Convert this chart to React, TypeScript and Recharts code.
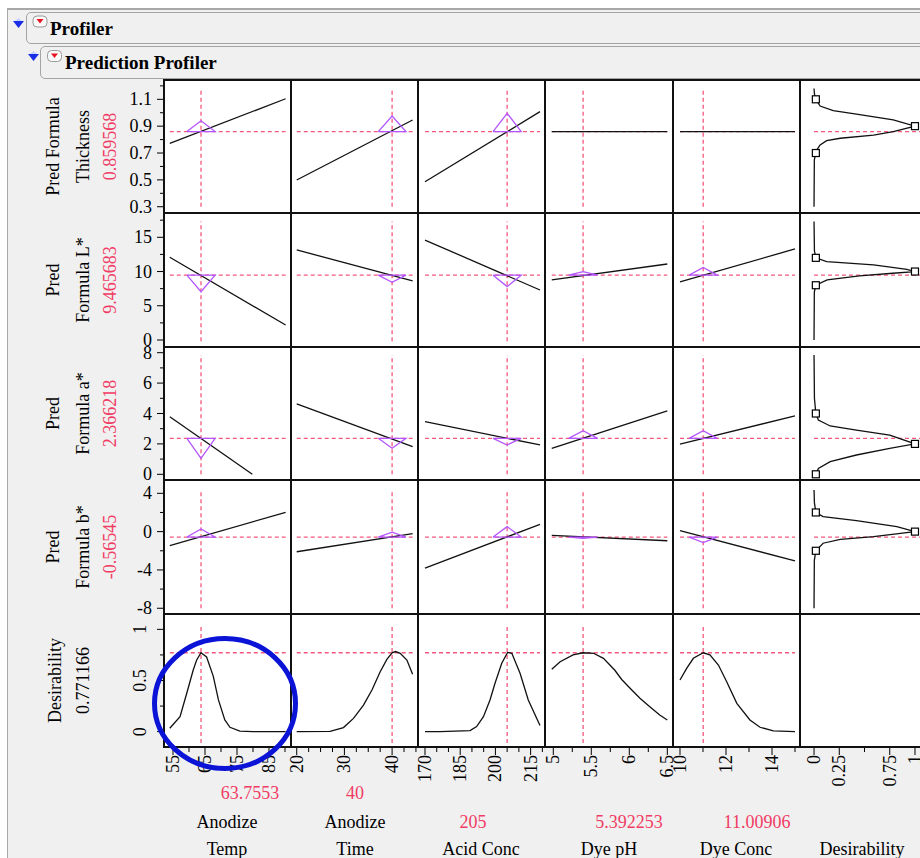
import { ComposedChart, Line, Scatter, XAxis, YAxis, ReferenceLine } from "recharts";

const FONT = "'Liberation Serif', 'Times New Roman', serif";
const RED = "#f03c64";
const DASH = "#f5587c";
const VIOLET = "#b455ff";

// factors (columns)
const factorNames = [["Anodize", "Temp"], ["Anodize", "Time"], ["Acid Conc"], ["Dye pH"], ["Dye Conc"], ["Desirability"]];
const factorCurrent = [63.7553, 40, 205, 5.392253, 11.00906];
const factorLabels = ["63.7553", "40", "205", "5.392253", "11.00906"];
const factorRange = [[54, 90.2], [20, 44.3], [170, 219], [4.98, 6.5], [10, 15]];
const triHalfWidth = [4.4, 2.9, 6.0, 0.19, 0.61];
const xDomains = [[52.19, 91.88], [18.8, 45.43], [167.02, 221.13], [4.891, 6.575], [9.696, 15.217], [-0.139, 1.119]];
const xMajor = [[55, 65, 75, 85], [20, 30, 40], [170, 185, 200, 215], [5, 5.5, 6, 6.5], [10, 12, 14], [0, 0.25, 0.75, 1]];
const xMinor = [[60, 70, 80, 90], [22.5, 25, 27.5, 32.5, 35, 37.5, 42.5, 45], [175, 180, 190, 195, 205, 210, 220], [5.25, 5.75, 6.25], [11, 13, 15], [0.5]];

// responses (rows)
const responseNames = [["Pred Formula", "Thickness"], ["Pred", "Formula L*"], ["Pred", "Formula a*"], ["Pred", "Formula b*"], ["Desirability"]];
const responseCurrent = [0.859568, 9.465683, 2.366218, -0.56545, 0.771166];
const responseLabels = ["0.859568", "9.465683", "2.366218", "-0.56545", "0.771166"];
const responseSpan = [[0.3, 1.18], [-0.2, 17.3], [0, 7.85], [-8, 4.35], [-0.11, 1.05]];
const yDomains = [[0.2534, 1.2437], [-1.023, 18.55], [-0.375, 8.375], [-8.6, 5.39], [-0.15, 1.15]];
const yMajor = [[0.3, 0.5, 0.7, 0.9, 1.1], [0, 5, 10, 15], [0, 2, 4, 6, 8], [-8, -4, 0, 4], [0, 0.5, 1]];
const yMinor = [[0.4, 0.6, 0.8, 1.0, 1.2], [2.5, 7.5, 12.5, 17.5], [1, 3, 5, 7], [-6, -2, 2], [0.25, 0.75]];

// profile traces per response, one per factor: [x, y]
const thicknessProfiles = [
  [[54, 0.772], [90.2, 1.104]],
  [[20, 0.499], [44.3, 0.946]],
  [[170, 0.486], [219, 1.008]],
  [[4.98, 0.8596], [6.5, 0.8596]],
  [[10, 0.8596], [15, 0.8596]],
];
const lStarProfiles = [
  [[54, 12.09], [90.2, 2.19]],
  [[20, 13.16], [44.3, 8.63]],
  [[170, 14.6], [219, 7.3]],
  [[4.98, 8.77], [6.5, 11.1]],
  [[10, 8.48], [15, 13.3]],
];
const aStarProfiles = [
  [[54, 3.79], [79.8, 0]],
  [[20, 4.63], [44.3, 1.82]],
  [[170, 3.46], [219, 1.93]],
  [[4.98, 1.71], [6.5, 4.18]],
  [[10, 1.99], [15, 3.84]],
];
const bStarProfiles = [
  [[54, -1.46], [90.2, 2.02]],
  [[20, -2.1], [44.3, -0.2]],
  [[170, -3.8], [219, 0.75]],
  [[4.98, -0.4], [6.5, -0.95]],
  [[10, 0.1], [15, -3.06]],
];
const desirabilityProfiles = [
  [[54, 0.033], [57.2, 0.146], [59.3, 0.375], [61.3, 0.6], [62.4, 0.7], [63.76, 0.771], [65.5, 0.73], [67.6, 0.54], [69.2, 0.31], [71.2, 0.114], [72.8, 0.043], [75.9, 0.005], [80, 0], [90.2, 0]],
  [[20, 0], [27, 0.003], [29.8, 0.04], [31.9, 0.13], [34, 0.26], [35.8, 0.41], [37.5, 0.586], [38.9, 0.707], [40, 0.771], [40.7, 0.783], [41.7, 0.766], [43.1, 0.7], [44.3, 0.56]],
  [[170, 0], [176.4, 0], [189.2, 0.01], [192, 0.05], [194.9, 0.146], [197.7, 0.31], [199.8, 0.47], [202.7, 0.668], [205.2, 0.775], [207, 0.766], [210.5, 0.57], [214, 0.31], [219, 0.06]],
  [[4.98, 0.61], [5.09, 0.684], [5.26, 0.75], [5.39, 0.771], [5.53, 0.766], [5.66, 0.717], [5.81, 0.6], [5.9, 0.51], [6.01, 0.424], [6.14, 0.326], [6.27, 0.244], [6.4, 0.163], [6.5, 0.114]],
  [[10, 0.505], [10.29, 0.619], [10.58, 0.717], [11.01, 0.771], [11.3, 0.75], [11.67, 0.651], [12.03, 0.488], [12.47, 0.277], [13.04, 0.114], [13.48, 0.043], [14.06, 0.007], [15, 0]],
];
const profiles = [thicknessProfiles, lStarProfiles, aStarProfiles, bStarProfiles, desirabilityProfiles];

// apex of the purple triangles (null = none drawn)
const triangleApex = [
  [0.94, 0.975, 0.996, null, null],
  [7.06, 8.43, 7.8, 9.99, 10.6],
  [1.05, 1.71, 1.93, 2.87, 2.87],
  [0.28, -0.06, 0.52, -0.69, -1.15],
];

// desirability functions: [desirability, response]
const desirThickness = [[0, 1.18], [0.004, 1.14], [0.018, 1.1], [0.06, 1.05], [0.19, 1.015], [0.42, 0.99], [0.785, 0.946], [1, 0.9], [0.785, 0.859], [0.59, 0.834], [0.26, 0.81], [0.125, 0.792], [0.06, 0.76], [0.027, 0.722], [0.018, 0.7], [0.003, 0.65], [0, 0.3]];
const desirLStar = [[0, 17.3], [0.004, 13], [0.018, 12], [0.125, 11.45], [0.59, 10.96], [0.92, 10.33], [1, 10], [0.78, 9.75], [0.45, 9.36], [0.13, 8.77], [0.018, 8], [0.003, 7], [0, 0]];
const desirAStar = [[0, 7.85], [0.004, 5], [0.018, 4], [0.043, 3.57], [0.16, 3.18], [0.42, 2.91], [0.75, 2.58], [1, 2], [0.75, 1.71], [0.42, 1.27], [0.16, 0.83], [0.043, 0.39], [0.018, 0]];
const desirBStar = [[0, 4.35], [0.004, 3], [0.018, 2], [0.09, 1.57], [0.42, 1.15], [0.82, 0.52], [1, 0], [0.59, -0.52], [0.26, -0.8], [0.09, -1.21], [0.018, -2], [0.003, -3], [0, -8]];
const desirCurves = [desirThickness, desirLStar, desirAStar, desirBStar];
const desirHandles = [
  [[0.018, 1.1], [1, 0.9], [0.018, 0.7]],
  [[0.018, 12], [1, 10], [0.018, 8]],
  [[0.018, 4], [1, 2], [0.018, 0]],
  [[0.018, 2], [1, 0], [0.018, -2]],
];

const COLS = [164, 291, 418, 545, 673, 800, 927];
const ROWS = [80, 213, 347, 480, 614, 747];
const YAX = 60;
const XAX = 50;

const pts = (a: number[][]) => a.map(([x, y]) => ({ x, y }));

const YTick = (props: any) => {
  const { x, y, payload, majors, rotated } = props;
  const v = payload.value;
  const major = majors.includes(v);
  return (
    <g>
      <line x1={x - (major ? 7 : 4)} x2={x} y1={y} y2={y} stroke="#000" />
      {major &&
        (rotated ? (
          <text x={x - 24} y={y} transform={`rotate(-90 ${x - 24} ${y})`} textAnchor="middle" dominantBaseline="central" fontFamily={FONT} fontSize={18} fill="#000">
            {String(v)}
          </text>
        ) : (
          <text x={x - 12} y={y} textAnchor="end" dominantBaseline="central" fontFamily={FONT} fontSize={18} fill="#000">
            {String(v)}
          </text>
        ))}
    </g>
  );
};

const XTick = (props: any) => {
  const { x, y, payload, majors } = props;
  const v = payload.value;
  const major = majors.includes(v);
  return (
    <g>
      <line x1={x} x2={x} y1={y} y2={y + (major ? 8 : 5)} stroke="#000" />
      {major && (
        <text x={x} y={y + 8} transform={`rotate(-90 ${x} ${y + 8})`} textAnchor="end" dominantBaseline="central" fontFamily={FONT} fontSize={18} fill="#000">
          {String(v)}
        </text>
      )}
    </g>
  );
};

const Square = (props: any) => <rect x={props.cx - 3.5} y={props.cy - 3.5} width={7} height={7} fill="#fff" stroke="#000" strokeWidth={1.2} />;

function Cell({ r, c }: { r: number; c: number }) {
  const showY = c === 0;
  const showX = r === 4;
  const w = COLS[c + 1] - COLS[c] + (showY ? YAX : 0);
  const h = ROWS[r + 1] - ROWS[r] + (showX ? XAX : 0);
  const isDesirCol = c === 5;
  const hasContent = !(isDesirCol && r === 4);
  const apex = !isDesirCol && r < 4 ? triangleApex[r][c] : null;
  const tri =
    apex !== null
      ? [
          { x: factorCurrent[c] - triHalfWidth[c], y: responseCurrent[r] },
          { x: factorCurrent[c], y: apex },
          { x: factorCurrent[c] + triHalfWidth[c], y: responseCurrent[r] },
          { x: factorCurrent[c] - triHalfWidth[c], y: responseCurrent[r] },
        ]
      : null;
  return (
    <div style={{ position: "absolute", left: COLS[c] - (showY ? YAX : 0), top: ROWS[r] }}>
      <ComposedChart width={w} height={h} margin={{ top: 0, right: 0, bottom: 0, left: 0 }}>
        <XAxis
          type="number"
          dataKey="x"
          domain={xDomains[c]}
          allowDataOverflow
          hide={!showX}
          height={XAX}
          ticks={[...xMajor[c], ...xMinor[c]]}
          interval={0}
          tickSize={0}
          tickMargin={0}
          axisLine={false}
          tickLine={false}
          tick={(p: any) => <XTick {...p} majors={xMajor[c]} />}
        />
        <YAxis
          type="number"
          dataKey="y"
          domain={yDomains[r]}
          allowDataOverflow
          hide={!showY}
          width={YAX}
          ticks={[...yMajor[r], ...yMinor[r]]}
          interval={0}
          tickSize={0}
          tickMargin={0}
          axisLine={false}
          tickLine={false}
          tick={(p: any) => <YTick {...p} majors={yMajor[r]} rotated={r === 4} />}
        />
        {hasContent && !isDesirCol && (
          <ReferenceLine
            segment={[{ x: factorCurrent[c], y: responseSpan[r][0] }, { x: factorCurrent[c], y: responseSpan[r][1] }]}
            stroke={DASH}
            strokeDasharray="4 3"
            strokeWidth={1.3}
            ifOverflow="visible"
          />
        )}
        {hasContent && (
          <ReferenceLine
            segment={
              isDesirCol
                ? [{ x: 0, y: responseCurrent[r] }, { x: 1.12, y: responseCurrent[r] }]
                : [{ x: factorRange[c][0], y: responseCurrent[r] }, { x: factorRange[c][1], y: responseCurrent[r] }]
            }
            stroke={DASH}
            strokeDasharray="4 3"
            strokeWidth={1.3}
            ifOverflow="visible"
          />
        )}
        {hasContent && !isDesirCol && (
          <Line data={pts(profiles[r][c])} dataKey="y" stroke="#111" strokeWidth={1.3} dot={false} isAnimationActive={false} />
        )}
        {tri && <Line data={tri} dataKey="y" stroke={VIOLET} strokeWidth={1.3} dot={false} isAnimationActive={false} />}
        {hasContent && isDesirCol && (
          <Line data={pts(desirCurves[r])} dataKey="y" stroke="#111" strokeWidth={1.3} dot={false} isAnimationActive={false} />
        )}
        {hasContent && isDesirCol && (
          <Scatter data={pts(desirHandles[r])} dataKey="y" shape={<Square />} isAnimationActive={false} />
        )}
      </ComposedChart>
    </div>
  );
}

const BlueTri = ({ x, y }: { x: number; y: number }) => (
  <g>
    <polygon points={`${x},${y + 3} ${x + 11},${y + 3} ${x + 5.5},${y + 10}`} fill="#1a2ee6" />
    <polygon points={`${x + 2},${y + 3} ${x + 9},${y + 3} ${x + 5.5},${y}`} fill="#c8d2ff" />
  </g>
);

const MenuIcon = ({ x, y }: { x: number; y: number }) => (
  <g>
    <rect x={x} y={y} width={14} height={11} rx={4} fill="#fafafa" stroke="#9a9a9a" />
    <polygon points={`${x + 3.5},${y + 3} ${x + 10.5},${y + 3} ${x + 7},${y + 7.5}`} fill="#e8141e" />
  </g>
);

export default function App() {
  const cells = [];
  for (let r = 0; r < 5; r++) for (let c = 0; c < 6; c++) cells.push(<Cell key={`${r}-${c}`} r={r} c={c} />);
  const rowMid = ROWS.slice(0, 5).map((t, i) => (t + ROWS[i + 1]) / 2);
  const rowText = (x: number, y: number, s: string, fill: string, key: string) => (
    <text key={key} x={x} y={y} transform={`rotate(-90 ${x} ${y})`} textAnchor="middle" dominantBaseline="central" fontFamily={FONT} fontSize={18} fill={fill}>
      {s}
    </text>
  );
  const plain = (x: number, y: number, s: string, fill: string, key: string, anchor = "middle") => (
    <text key={key} x={x} y={y} textAnchor={anchor} dominantBaseline="central" fontFamily={FONT} fontSize={18} fill={fill}>
      {s}
    </text>
  );
  const bottomValueX = [250, 355, 473, 629, 757];
  const bottomValueY = [793, 793, 822, 822, 822];
  const bottomNameX = [227, 355, 481, 609, 736, 862];

  return (
    <div style={{ position: "absolute", left: 0, top: 0, width: 920, height: 858, overflow: "hidden", background: "#fff" }}>
      <style>{`.recharts-surface { overflow: visible; } .recharts-wrapper { overflow: visible; }`}</style>
      <div style={{ position: "absolute", left: 7, top: 8, width: 920, height: 860, background: "#f0f0f0", borderTop: "2px solid #a8a8a8", borderLeft: "1px solid #a8a8a8" }} />
      <div style={{ position: "absolute", left: 26, top: 12, width: 960, height: 30, border: "1px solid #a4a4a4", borderRadius: 5, background: "#f0f0f0" }} />
      <div style={{ position: "absolute", left: 40, top: 46, width: 960, height: 31, border: "1px solid #a4a4a4", borderRadius: 5, background: "#f0f0f0" }} />
      <div style={{ position: "absolute", left: COLS[0], top: ROWS[0], width: 920 - COLS[0], height: ROWS[5] - ROWS[0], background: "#fff" }} />
      {cells}
      {COLS.slice(0, 6).map((x) => (
        <div key={`v${x}`} style={{ position: "absolute", left: x - 1, top: ROWS[0] - 1, width: 2, height: ROWS[5] - ROWS[0] + 2, background: "#111" }} />
      ))}
      {ROWS.map((y) => (
        <div key={`h${y}`} style={{ position: "absolute", left: COLS[0] - 1, top: y - 1, width: 920 - COLS[0] + 1, height: 2, background: "#111" }} />
      ))}
      <svg width={920} height={858} style={{ position: "absolute", left: 0, top: 0, pointerEvents: "none" }}>
        <BlueTri x={13} y={18} />
        <MenuIcon x={33} y={16} />
        <text x={50} y={35} fontFamily={FONT} fontSize={19} fontWeight="bold" fill="#000">
          Profiler
        </text>
        <BlueTri x={28} y={51} />
        <MenuIcon x={47.5} y={50.5} />
        <text x={65} y={68.5} fontFamily={FONT} fontSize={19} fontWeight="bold" fill="#000">
          Prediction Profiler
        </text>

        {responseNames.map((lines, r) => {
          const xs = r === 4 ? [55, 83] : [53, 83, 110];
          const out = lines.map((s, i) => rowText(xs[i], rowMid[r], s, "#000", `rn${r}${i}`));
          out.push(rowText(xs[lines.length], rowMid[r], responseLabels[r], r === 4 ? "#000" : RED, `rv${r}`));
          return out;
        })}

        {factorLabels.map((s, c) => plain(bottomValueX[c], bottomValueY[c], s, RED, `fv${c}`))}
        {factorNames.map((lines, c) =>
          lines.length === 2
            ? [plain(bottomNameX[c], 822, lines[0], "#000", `fn${c}a`), plain(bottomNameX[c], 849, lines[1], "#000", `fn${c}b`)]
            : plain(bottomNameX[c], 849, lines[0], "#000", `fn${c}`)
        )}

        <ellipse cx={225} cy={703.5} rx={70.5} ry={65} fill="none" stroke="#0b14d6" strokeWidth={5} />
      </svg>
    </div>
  );
}
